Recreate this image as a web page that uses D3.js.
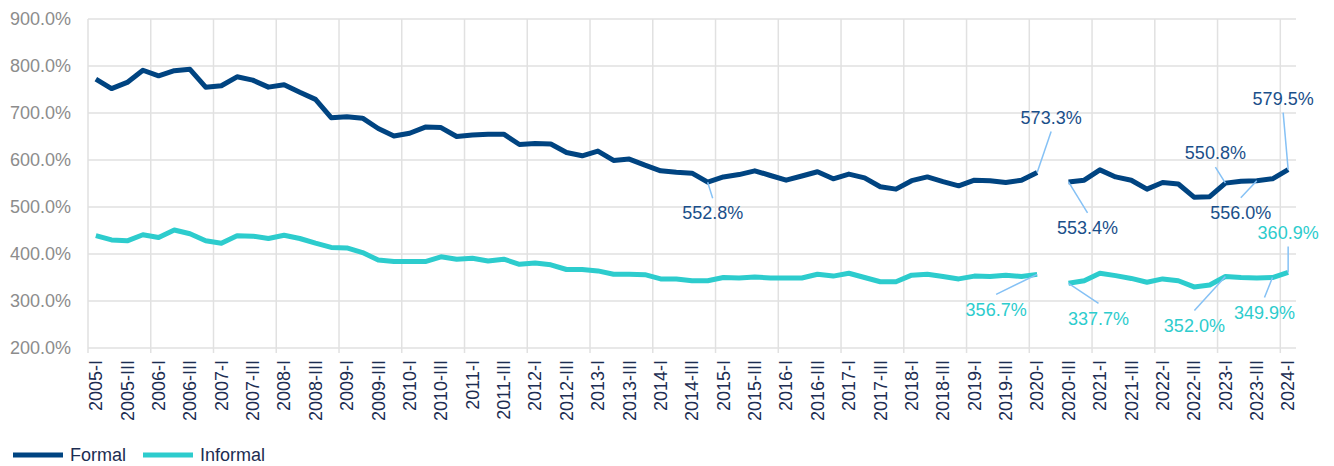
<!DOCTYPE html>
<html>
<head>
<meta charset="utf-8">
<script src="https://cdn.jsdelivr.net/npm/d3@7"></script>
<style>
  body { margin: 0; background: #fff; }
  svg { display: block; font-family: "Liberation Sans", Arial, sans-serif; }
</style>
</head>
<body>
<div id="chart"></div>
<script>
// Quarters 2005-I .. 2024-I
const years = d3.range(2005, 2025);
const romans = ["I", "II", "III", "IV"];
const quarters = [];
years.forEach(y => romans.forEach(r => { if (y < 2024 || r === "I") quarters.push(`${y}-${r}`); }));

// Formal (2020-II missing)
const formal = [
  772, 752, 765, 791, 779, 790, 793, 755, 758, 777, 770, 755, 760, 744, 729, 690,
  692, 689, 667, 651, 657, 670, 669, 650, 653, 655, 655, 633, 635, 634, 616, 609,
  619, 599, 602, 589, 577, 574, 572, 552.8, 564, 569, 577, 567, 557, 566, 575, 560,
  570, 562, 543, 538, 556, 564, 554, 545, 557, 556, 552, 557, 573.3, null, 553.4, 557,
  579, 564, 557, 538, 552, 549, 521, 522, 550.8, 555, 556.0, 560, 579.5
];

// Informal
const informal = [
  439, 430, 428, 441, 435, 451, 443, 428, 423, 439, 438, 433, 440, 433, 423, 414,
  413, 403, 387, 384, 384, 384, 394, 389, 391, 385, 389, 378, 381, 377, 367, 367,
  364, 357, 357, 356, 347, 347, 343, 343, 350, 349, 351, 349, 349, 349, 357, 353,
  359, 350, 341, 341, 355, 357, 352, 347, 353, 352, 355, 352, 356.7, null, 337.7, 343,
  359, 354, 348, 340, 347, 343, 330, 334, 352.0, 350, 349, 349.9, 360.9
];

const yTicks = [200, 300, 400, 500, 600, 700, 800, 900];

const seriesList = [
  { key: "formal", name: "Formal", values: formal, color: "#004481", labelColor: "#1a4f8a" },
  { key: "informal", name: "Informal", values: informal, color: "#2dcccd", labelColor: "#2dcccd" }
];

// Annotated points: series, quarter index, label offset from the point
const annotations = [
  { key: "formal", i: 39, dx: 5, dy: 31 },
  { key: "formal", i: 60, dx: 14, dy: -55 },
  { key: "formal", i: 62, dx: 19, dy: 46 },
  { key: "formal", i: 72, dx: -10, dy: -30 },
  { key: "formal", i: 74, dx: -16, dy: 32 },
  { key: "formal", i: 76, dx: -5, dy: -71 },
  { key: "informal", i: 60, dx: -41, dy: 35 },
  { key: "informal", i: 62, dx: 30, dy: 35 },
  { key: "informal", i: 72, dx: -31, dy: 49 },
  { key: "informal", i: 75, dx: -8, dy: 35 },
  { key: "informal", i: 76, dx: 0, dy: -40 }
];

const width = 1334, height = 466;
const margin = { top: 19, right: 38, bottom: 118, left: 88 };

const svg = d3.select("#chart").append("svg")
  .attr("width", width)
  .attr("height", height);

const x = d3.scaleBand()
  .domain(quarters)
  .range([margin.left, width - margin.right])
  .padding(0);

const y = d3.scaleLinear()
  .domain([200, 900])
  .range([height - margin.bottom, margin.top]);

const cx = q => x(q) + x.bandwidth() / 2;
const fmt = v => v.toFixed(1) + "%";

// Horizontal gridlines + y labels
const gGrid = svg.append("g");
gGrid.selectAll("line.h")
  .data(yTicks)
  .enter()
  .append("line")
  .attr("x1", margin.left)
  .attr("x2", width - margin.right)
  .attr("y1", d => y(d))
  .attr("y2", d => y(d))
  .attr("stroke", "#e1e1e1")
  .attr("stroke-width", 1.5);

// Vertical gridlines at start of each year
const yearStarts = quarters.filter(q => q.endsWith("-I"));
gGrid.selectAll("line.v")
  .data(yearStarts)
  .enter()
  .append("line")
  .attr("x1", d => x(d))
  .attr("x2", d => x(d))
  .attr("y1", margin.top)
  .attr("y2", y(200) + 5)
  .attr("stroke", "#e1e1e1")
  .attr("stroke-width", 1.5);

svg.append("g").selectAll("text")
  .data(yTicks)
  .enter()
  .append("text")
  .attr("x", 71)
  .attr("y", d => y(d))
  .attr("dy", "0.35em")
  .attr("text-anchor", "end")
  .attr("font-size", 18)
  .attr("fill", "#8c8c8c")
  .text(d => d.toFixed(1) + "%");

// X labels (every other quarter)
svg.append("g").selectAll("text")
  .data(quarters.filter((q, i) => i % 2 === 0))
  .enter()
  .append("text")
  .attr("transform", d => `translate(${cx(d)},${y(200) + 12}) rotate(-90)`)
  .attr("dy", "0.35em")
  .attr("text-anchor", "end")
  .attr("font-size", 18)
  .attr("fill", "#1c2d52")
  .text(d => d);

// Lines
const line = d3.line()
  .defined(d => d.v != null)
  .x(d => cx(d.q))
  .y(d => y(d.v));

seriesList.forEach(s => {
  const pts = quarters.map((q, i) => ({ q, v: s.values[i] }));
  svg.append("path")
    .datum(pts)
    .attr("fill", "none")
    .attr("stroke", s.color)
    .attr("stroke-width", 5)
    .attr("stroke-linejoin", "round")
    .attr("d", line);
});

// Data labels with leader lines
const gAnn = svg.append("g");
annotations.forEach(a => {
  const s = seriesList.find(d => d.key === a.key);
  const q = quarters[a.i];
  const v = s.values[a.i];
  const px = cx(q), py = y(v);
  const ly = a.dy > 0 ? a.dy - 15 : a.dy + 14;
  gAnn.append("line")
    .attr("x1", px).attr("y1", py)
    .attr("x2", px + a.dx).attr("y2", py + ly)
    .attr("stroke", "#85c1f5")
    .attr("stroke-width", 1.5);
  gAnn.append("text")
    .attr("x", px + a.dx)
    .attr("y", py + a.dy)
    .attr("dy", "0.35em")
    .attr("text-anchor", "middle")
    .attr("font-size", 18)
    .attr("fill", s.labelColor)
    .text(fmt(v));
});

// Legend
const legend = svg.append("g").attr("transform", "translate(13,455)");
const li = legend.selectAll("g")
  .data(seriesList)
  .enter()
  .append("g")
  .attr("transform", (d, i) => `translate(${i * 130},0)`);
li.append("line")
  .attr("x1", 0).attr("x2", 50)
  .attr("stroke", d => d.color)
  .attr("stroke-width", 5);
li.append("text")
  .attr("x", 57)
  .attr("dy", "0.35em")
  .attr("font-size", 18)
  .attr("fill", "#1c2d52")
  .text(d => d.name);
</script>
</body>
</html>
